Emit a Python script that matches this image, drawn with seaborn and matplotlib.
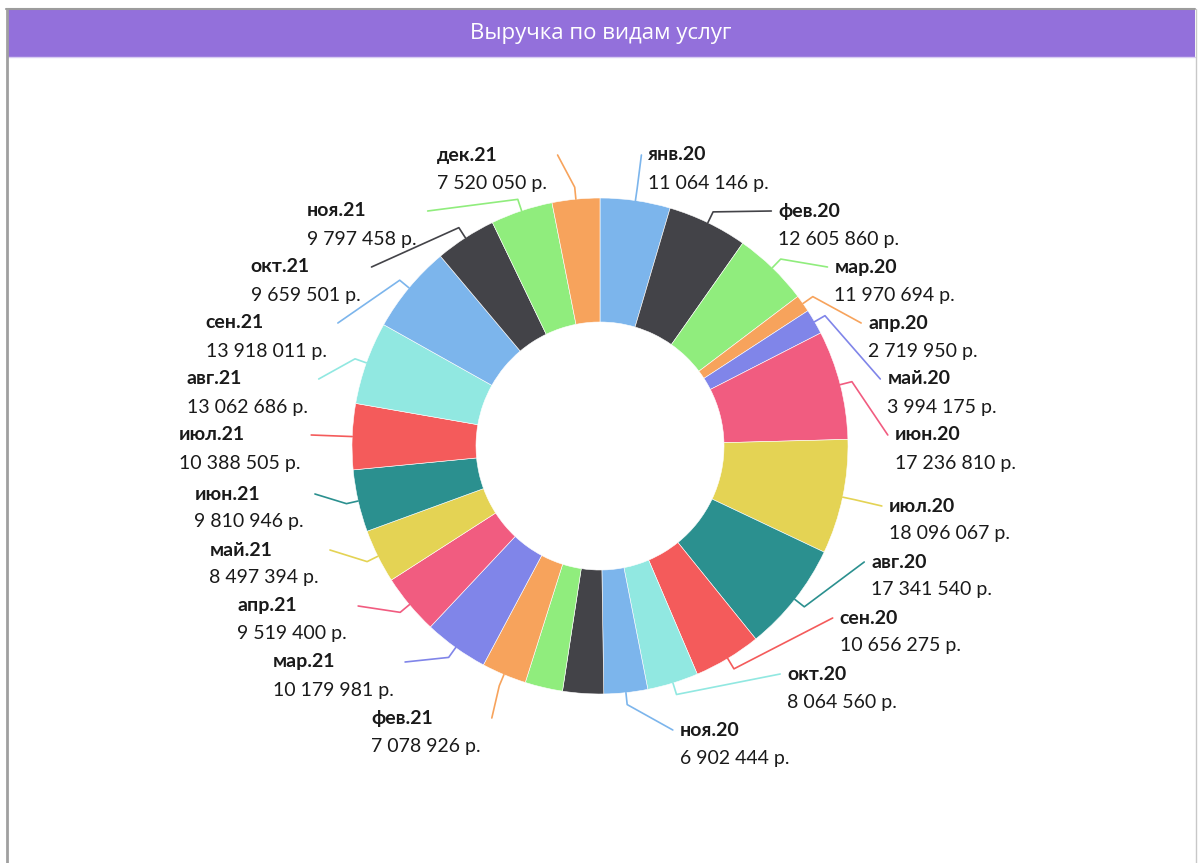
import numpy as np
import matplotlib
matplotlib.use("Agg")
import matplotlib.pyplot as plt
from matplotlib.patches import Rectangle
import seaborn as sns

# data
months = ["янв.20", "фев.20", "мар.20", "апр.20", "май.20", "июн.20",
          "июл.20", "авг.20", "сен.20", "окт.20", "ноя.20", "дек.20",
          "янв.21", "фев.21", "мар.21", "апр.21", "май.21", "июн.21",
          "июл.21", "авг.21", "сен.21", "окт.21", "ноя.21", "дек.21"]
revenue = [11064146, 12605860, 11970694, 2719950, 3994175, 17236810,
           18096067, 17341540, 10656275, 8064560, 6902444, 6450000,
           5950000, 7078926, 10179981, 9519400, 8497394, 9810946,
           10388505, 13062686, 13918011, 9659501, 9797458, 7520050]
# these two have no label on the original (hidden by overlap)
hidden_labels = ["дек.20", "янв.21"]
title = "Выручка по видам услуг"

hc_colors = ["#7cb5ec", "#434348", "#90ed7d", "#f7a35c", "#8085e9",
             "#f15c80", "#e4d354", "#2b908f", "#f45b5b", "#91e8e1"]

sns.set_theme(style="white")
plt.rcParams["font.family"] = ["Lato", "DejaVu Sans"]

W, H = 1198, 863
fig = plt.figure(figsize=(W / 100, H / 100), dpi=100)
ax = fig.add_axes([0, 0, 1, 1])


def Y(py):
    # pixel row -> data y
    return H - py


cx, cy = 600, 446
R, hole = 248, 124
Rl = 295          # radius of label column
gap = 56          # vertical space per label
top = 155
bottom = {"right": 730, "left": 718}

colors = sns.color_palette(hc_colors, n_colors=len(revenue))
wedges, _ = ax.pie(revenue, colors=colors, startangle=90, counterclock=False,
                   radius=R, center=(cx, Y(cy)),
                   wedgeprops=dict(width=R - hole, edgecolor="white", linewidth=0.4))

# collect label info
items = []
for i, w in enumerate(wedges):
    if months[i] in hidden_labels:
        continue
    mid = np.deg2rad((w.theta1 + w.theta2) / 2)
    side = "right" if np.cos(mid) > 0 else "left"
    nat = cy - Rl * np.sin(mid)
    items.append(dict(i=i, mid=mid, side=side, nat=nat))

for side in ["right", "left"]:
    grp = sorted([it for it in items if it["side"] == side], key=lambda d: d["nat"])
    ys = [it["nat"] for it in grp]
    ys[0] = max(ys[0], top)
    for k in range(1, len(ys)):
        ys[k] = max(ys[k], ys[k - 1] + gap)
    ys[-1] = min(ys[-1], bottom[side])
    for k in range(len(ys) - 2, -1, -1):
        ys[k] = min(ys[k], ys[k + 1] - gap)
    for it, y in zip(grp, ys):
        it["y"] = y

for it in items:
    i, mid, y = it["i"], it["mid"], it["y"]
    col = colors[i]
    dx = np.sqrt(max(Rl ** 2 - (y - cy) ** 2, 0))
    val = f"{revenue[i]:,}".replace(",", " ") + " р."
    if it["side"] == "right":
        xt = cx + dx
        vt = ax.text(xt, Y(y + 28), val, ha="left", va="center", fontsize=14, color="#1a1a1a")
        xa = xt - 7
    else:
        xt = cx - dx - 5
        vt = ax.text(xt, Y(y + 28), val, ha="right", va="center", fontsize=14, color="#1a1a1a")
        xa = xt + 11
    ax.annotate(months[i], xy=(0, Y(y)), xycoords=(vt, "data"), ha="left", va="center",
                fontsize=14, fontweight="bold", color="#1a1a1a")
    # connector
    x0, y0 = cx + R * np.cos(mid), Y(cy) + R * np.sin(mid)
    x1, y1 = cx + (R + 12) * np.cos(mid), Y(cy) + (R + 12) * np.sin(mid)
    ax.plot([x0, x1, xa], [y0, y1, Y(y)], color=col, lw=1.2, solid_joinstyle="round")

# window frame and title bar
ax.add_patch(Rectangle((7, Y(57)), 1188, 47, facecolor="#9370db", edgecolor="none"))
ax.plot([7, 1195], [Y(57.5), Y(57.5)], color="#d9cdf3", lw=1)
ax.plot([6, 1195], [Y(9.5), Y(9.5)], color="#9c9c9c", lw=1.5)
ax.plot([7, 7], [Y(9), 0], color="#a0a0a0", lw=2)
ax.plot([1195.5, 1195.5], [Y(9), 0], color="#c8c8c8", lw=1)
ax.text(601, Y(34), title, ha="center", va="center", fontsize=16, color="white",
        family=["Open Sans", "DejaVu Sans"])

ax.set_xlim(0, W)
ax.set_ylim(0, H)
ax.set_aspect("auto")
ax.axis("off")

plt.savefig("out.png", dpi=100)
